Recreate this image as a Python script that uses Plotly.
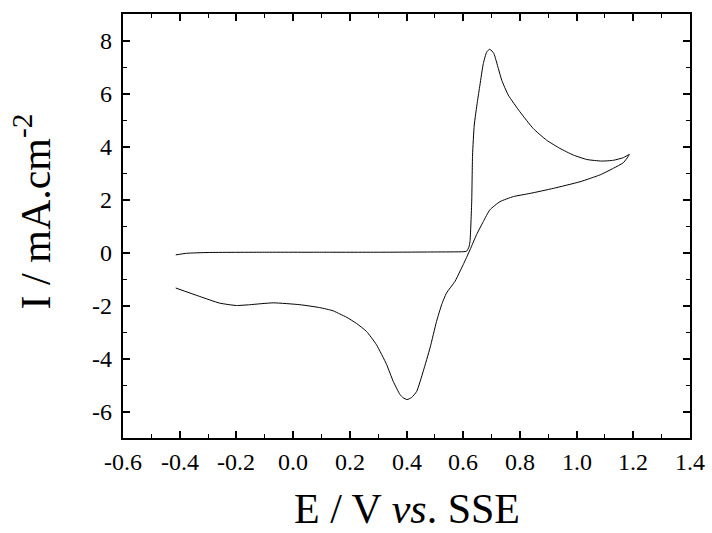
import plotly.graph_objects as go

# Cyclic voltammogram: potential (V vs SSE) and current density (mA/cm^2)
E = [-0.414, -0.376, -0.30, -0.10, 0.10, 0.30, 0.50, 0.60, 0.612,
     0.620, 0.624, 0.630, 0.633, 0.639, 0.650, 0.659, 0.671, 0.683, 0.694,
     0.708, 0.724, 0.736, 0.759, 0.800, 0.847, 0.894, 0.941, 0.988, 1.036,
     1.089, 1.130, 1.165, 1.186,
     1.165, 1.130, 1.083, 1.012, 0.918, 0.836, 0.777, 0.730, 0.694, 0.671,
     0.647, 0.624, 0.600, 0.589, 0.571, 0.541, 0.524, 0.506, 0.483, 0.459,
     0.436, 0.418, 0.402, 0.388, 0.377, 0.353, 0.330, 0.294, 0.259, 0.224,
     0.190, 0.165, 0.141, 0.094, 0.024, -0.070, -0.153, -0.200, -0.259,
     -0.329, -0.414]
I = [-0.09, -0.03, 0.00, 0.01, 0.01, 0.01, 0.02, 0.03, 0.05,
     0.20, 0.41, 1.92, 3.68, 4.81, 5.69, 6.32, 7.13, 7.57, 7.67,
     7.51, 6.94, 6.50, 5.94, 5.31, 4.68, 4.24, 3.93, 3.68, 3.51,
     3.45, 3.48, 3.58, 3.70,
     3.39, 3.18, 2.93, 2.67, 2.42, 2.23, 2.11, 1.92, 1.61, 1.17,
     0.67, 0.10, -0.46, -0.70, -1.09, -1.53, -1.97, -2.60, -3.60, -4.48,
     -5.24, -5.47, -5.55, -5.48, -5.36, -4.86, -4.23, -3.48, -2.98, -2.68,
     -2.45, -2.32, -2.20, -2.08, -1.97, -1.90, -1.97, -2.00, -1.91,
     -1.66, -1.34]

x_ticks = [-0.6, -0.4, -0.2, 0.0, 0.2, 0.4, 0.6, 0.8, 1.0, 1.2, 1.4]
x_labels = ["-0.6", "-0.4", "-0.2", "0.0", "0.2", "0.4", "0.6", "0.8", "1.0", "1.2", "1.4"]
y_ticks = [-6, -4, -2, 0, 2, 4, 6, 8]
y_labels = ["-6", "-4", "-2", "0", "2", "4", "6", "8"]
x_title = "E / V <i>vs</i>. SSE"
y_title = "I / mA.cm<sup>-2</sup>"

font = "Liberation Serif"
tick_font = dict(family=font, size=24, color="black")
title_font = dict(family=font, size=42, color="black")

fig = go.Figure()
fig.add_trace(go.Scatter(x=E, y=I, mode="lines",
                         line=dict(color="black", width=1, shape="spline", smoothing=0.5),
                         showlegend=False, hoverinfo="skip"))

axis_style = dict(showgrid=False, zeroline=False, showline=True, linecolor="black", linewidth=1.5,
                  mirror="allticks", ticks="inside", ticklen=7, tickwidth=1.5, tickcolor="black",
                  showticklabels=False, tickmode="array")
fig.update_layout(
    xaxis=dict(range=[-0.6, 1.4], tickvals=x_ticks,
               minor=dict(ticks="inside", ticklen=4, tickwidth=1.2, tickcolor="black",
                          tickmode="linear", dtick=0.1, tick0=0),
               **axis_style),
    yaxis=dict(range=[-7, 9], tickvals=y_ticks,
               minor=dict(ticks="inside", ticklen=4, tickwidth=1.2, tickcolor="black",
                          tickmode="linear", dtick=1, tick0=0),
               **axis_style),
)

# tick labels as text placed through the axes
for v, t in zip(x_ticks, x_labels):
    fig.add_annotation(text=t, xref="x", yref="paper", x=v, y=0, xanchor="center",
                       yanchor="top", yshift=-9, showarrow=False, font=tick_font)
for v, t in zip(y_ticks, y_labels):
    fig.add_annotation(text=t, xref="paper", yref="y", x=0, y=v, xanchor="right",
                       yanchor="middle", xshift=-9, showarrow=False, font=tick_font)

fig.add_annotation(text=x_title, xref="paper", yref="paper", x=0.5, y=-0.167,
                   xanchor="center", yanchor="middle", showarrow=False, font=title_font)
fig.add_annotation(text=y_title, xref="paper", yref="paper", x=-0.16, y=0.535,
                   xanchor="center", yanchor="middle", showarrow=False, textangle=-90,
                   font=title_font)

fig.update_layout(width=712, height=533, margin=dict(l=123, r=22, t=12, b=95),
                  font=dict(family=font, size=24, color="black"),
                  plot_bgcolor="white", paper_bgcolor="white")
fig.write_html("out.html")
